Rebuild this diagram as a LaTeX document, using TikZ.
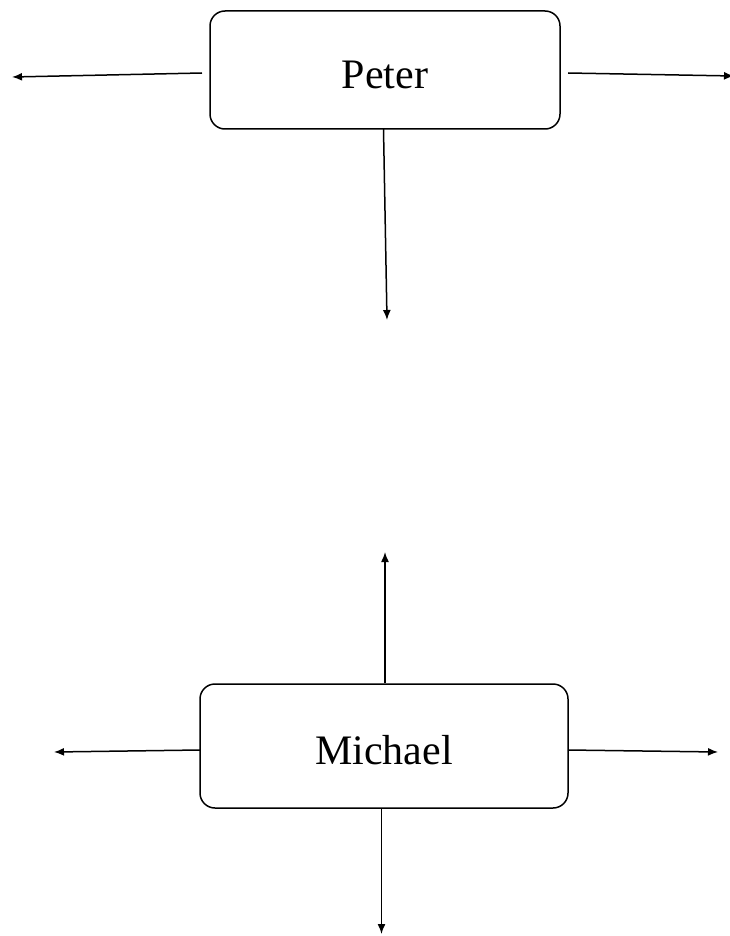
\documentclass[tikz,border=0pt]{standalone}
\usepackage{fontspec}
\setmainfont{Liberation Serif}
\usetikzlibrary{arrows.meta}
\begin{document}
\begin{tikzpicture}[x=1pt,y=-1pt,
  box/.style={draw,line width=1.5pt,rounded corners=15pt,fill=white,inner sep=0pt,font=\fontsize{42}{48}\selectfont},
  conn/.style={line width=1.5pt,-{Latex[length=10pt,width=8pt]}}]
\useasboundingbox (0,0) rectangle (729,936);
\fill[white] (0,0) rectangle (729,936);
\node[box,minimum width=350pt,minimum height=118pt] (P) at (385,70) {\raisebox{-5pt}[\height][\depth]{Peter}};
\node[box,minimum width=368pt,minimum height=124pt] (M) at (384,746) {\raisebox{-4pt}[\height][\depth]{Michael}};
% Peter connectors
\coordinate (pl0) at (202,73);
\coordinate (pl1) at (12,77);
\coordinate (pr0) at (568,73);
\coordinate (pr1) at (734,76);
\coordinate (pd0) at (383.5,129);
\coordinate (pd1) at (387,320);
\draw[conn] (pl0) -- (pl1);
\draw[conn] (pr0) -- (pr1);
\draw[conn] (pd0) -- (pd1);
% Michael connectors
\coordinate (mu1) at (385,552);
\coordinate (ml0) at (200,750);
\coordinate (ml1) at (54,752);
\coordinate (mr0) at (568,750);
\coordinate (mr1) at (718,752);
\coordinate (md1) at (381.5,934);
\draw[conn] (M.north -| mu1) -- (mu1);
\draw[conn] (ml0) -- (ml1);
\draw[conn] (mr0) -- (mr1);
\draw[conn] (M.south -| md1) -- (md1);
\end{tikzpicture}
\end{document}
